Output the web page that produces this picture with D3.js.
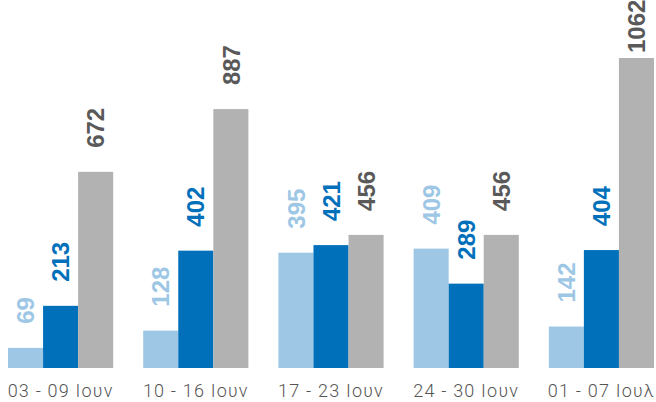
<!DOCTYPE html>
<html>
<head>
<meta charset="utf-8">
<script src="https://cdn.jsdelivr.net/npm/d3@7"></script>
<style>
  body { margin: 0; background: #fff; }
  svg { display: block; }
</style>
</head>
<body>
<svg class="bar-chart"></svg>
<script>
const weeks = ["03 - 09 Ιουν", "10 - 16 Ιουν", "17 - 23 Ιουν", "24 - 30 Ιουν", "01 - 07 Ιουλ"];
const seriesA = [69, 128, 395, 409, 142];
const seriesB = [213, 402, 421, 289, 404];
const seriesC = [672, 887, 456, 456, 1062];

const colors = ["#9dc7e5", "#0070ba", "#b2b2b2"];
const labelColors = ["#9dc7e5", "#0070ba", "#595959"];

const width = 656, height = 402;
const baseY = 368;

const svg = d3.select("svg.bar-chart").attr("width", width).attr("height", height);

const series = [seriesA, seriesB, seriesC];
const data = weeks.map((w, i) => ({ week: w, values: series.map(s => s[i]) }));

const x0 = d3.scaleBand().domain(weeks).range([8, 654]).paddingInner(0.222).paddingOuter(0);
const x1 = d3.scaleBand().domain([0, 1, 2]).range([0, x0.bandwidth()]);
const y = d3.scaleLinear().domain([0, 1062]).range([baseY, 58]);

const groups = svg.selectAll(".group")
  .data(data)
  .enter()
  .append("g")
  .attr("class", "group")
  .attr("transform", d => `translate(${x0(d.week)},0)`);

groups.selectAll("rect")
  .data(d => d.values.map((v, k) => ({ v, k })))
  .enter()
  .append("rect")
  .attr("x", d => x1(d.k))
  .attr("width", x1.bandwidth())
  .attr("y", d => y(d.v))
  .attr("height", d => baseY - y(d.v))
  .attr("fill", d => colors[d.k]);

// value labels sit ~24px above the bar, pushed down when they'd leave the chart
groups.selectAll("text.val")
  .data(d => d.values.map((v, k) => ({ v, k })))
  .enter()
  .append("text")
  .attr("class", "val")
  .attr("transform", d => `translate(${x1(d.k) + x1.bandwidth() / 2},${Math.max(y(d.v) - 24, 53)}) rotate(-90)`)
  .attr("dy", "0.36em")
  .attr("text-anchor", "start")
  .style("font-family", "'Liberation Sans', Arial, sans-serif")
  .style("font-weight", "bold")
  .style("font-size", "24px")
  .attr("fill", d => labelColors[d.k])
  .text(d => d.v);

// x axis labels
svg.selectAll("text.week")
  .data(weeks)
  .enter()
  .append("text")
  .attr("class", "week")
  .attr("x", d => x0(d) + x0.bandwidth() / 2)
  .attr("y", 397)
  .attr("text-anchor", "middle")
  .style("font-family", "Roboto, sans-serif")
  .style("font-weight", "300")
  .style("font-size", "18px")
  .style("letter-spacing", "1.2px")
  .attr("fill", "#555")
  .text(d => d);
</script>
</body>
</html>
